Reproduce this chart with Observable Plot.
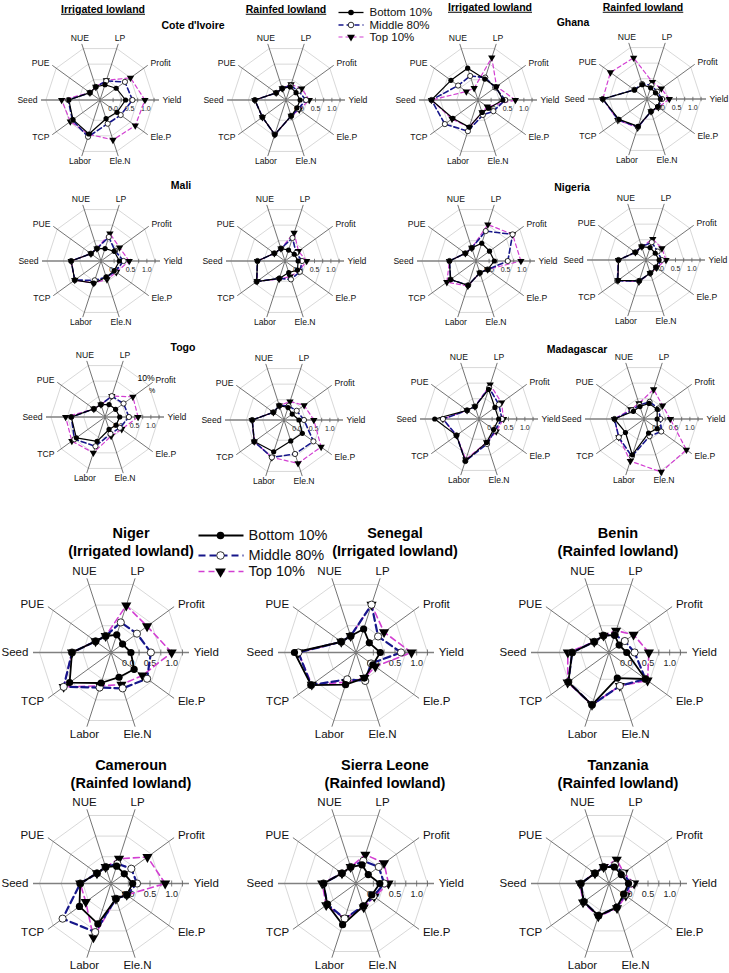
<!DOCTYPE html>
<html><head><meta charset="utf-8">
<script src="https://cdn.jsdelivr.net/npm/d3@7"></script>
<script src="https://cdn.jsdelivr.net/npm/@observablehq/plot@0.6"></script>
<style>
body{margin:0;background:#fff;font-family:"Liberation Sans",Arial,sans-serif;}
#root{position:relative;width:729px;height:973px;overflow:hidden;background:#fff;}
.t{position:absolute;white-space:nowrap;transform:translate(-50%,-50%);font-weight:bold;color:#000;line-height:1;}
.u{text-decoration:underline;}
svg{position:absolute;}
</style></head><body><div id="root"></div>
<script>
// axis order (counter-clockwise from east)
const axes = ["Yield","Profit","LP","NUE","PUE","Seed","TCP","Labor","Ele.N","Ele.P"];
const groups = ["Bottom 10%","Middle 80%","Top 10%"];
const tickValues = [0, 0.25, 0.5, 0.75, 1.0, 1.25];
const tickLabels = ["0.0","0.5","1.0"];
const tickLabelValues = [0, 0.5, 1.0];
const ringValues = [0.25, 0.75, 1.25];

// values: Yield, Profit, LP, NUE, PUE, Seed, TCP, Labor, Ele.N, Ele.P
const civIrr_bottom = [0.38, 0.21, 0.09, 0.02, -0.02, 0.55, 0.62, 0.69, 0.20, 0.24];
const civIrr_middle = [0.59, 0.54, 0.21, 0.02, -0.02, 0.57, 0.64, 0.78, 0.36, 0.38];
const civIrr_top    = [0.97, 0.75, 0.23, 0.02, -0.02, 0.77, 0.72, 0.70, 0.88, 0.93];

const civRf_bottom = [0.03, -0.02, 0.02, -0.03, -0.03, 0.55, 0.49, 0.71, 0.11, 0.01];
const civRf_middle = [0.21, 0.07, 0.06, -0.03, -0.03, 0.55, 0.49, 0.71, 0.11, 0.06];
const civRf_top    = [0.31, 0.19, 0.10, -0.03, -0.03, 0.55, 0.49, 0.71, 0.11, 0.10];

const ghaIrr_bottom = [0.36, 0.28, 0.27, 0.62, 0.62, 1.02, 0.55, 0.47, 0.00, 0.02];
const ghaIrr_middle = [0.43, 0.25, 0.32, 0.37, 0.35, 1.02, 0.85, 0.60, 0.08, 0.18];
const ghaIrr_top    = [0.74, 0.30, 0.96, -0.02, 0.04, 1.02, 0.58, 0.48, 0.00, -0.05];

const ghaRf_bottom = [0.01, -0.08, -0.04, 0.06, 0.07, 0.95, 0.66, 0.48, 0.00, 0.00];
const ghaRf_middle = [0.06, -0.02, 0.04, 0.08, 0.08, 0.95, 0.68, 0.50, 0.00, 0.02];
const ghaRf_top    = [0.28, 0.14, 0.14, 0.92, 0.98, 0.95, 0.70, 0.52, 0.00, 0.03];

const maliIrr_bottom = [0.16, 0.10, 0.00, 0.00, -0.02, 0.51, 0.59, 0.31, 0.12, 0.10];
const maliIrr_middle = [0.29, 0.13, 0.37, 0.00, -0.02, 0.51, 0.59, 0.22, 0.12, 0.14];
const maliIrr_top    = [0.46, 0.30, 0.48, 0.00, -0.02, 0.51, 0.59, 0.31, 0.19, 0.18];

const maliRf_bottom = [0.00, -0.05, -0.05, 0.00, 0.00, 0.44, 0.67, 0.16, -0.03, 0.07];
const maliRf_middle = [0.12, 0.02, 0.34, 0.00, 0.00, 0.44, 0.67, 0.16, 0.19, 0.16];
const maliRf_top    = [0.26, 0.11, 0.50, 0.00, 0.00, 0.44, 0.65, 0.18, 0.10, 0.12];

const ngaIrr_bottom = [0.16, 0.11, 0.17, 0.02, 0.00, 0.41, 0.56, 0.38, -0.02, 0.04];
const ngaIrr_middle = [0.57, 0.98, 0.56, 0.02, 0.00, 0.41, 0.56, 0.38, -0.02, 0.04];
const ngaIrr_top    = [0.97, 0.98, 0.77, 0.02, 0.00, 0.41, 0.70, 0.40, -0.02, 0.04];

const ngaRf_bottom = [0.00, -0.05, 0.00, 0.03, 0.00, 0.44, 0.66, 0.27, 0.02, -0.02];
const ngaRf_middle = [0.08, 0.04, 0.17, 0.03, 0.00, 0.44, 0.68, 0.27, 0.02, -0.02];
const ngaRf_top    = [0.21, 0.20, 0.27, 0.03, 0.00, 0.44, 0.66, 0.30, 0.02, 0.00];

const togoIrr_bottom = [0.05, 0.00, 0.00, 0.00, 0.02, 0.63, 0.68, 0.38, 0.00, 0.02];
const togoIrr_middle = [0.33, 0.30, 0.27, 0.00, 0.02, 0.63, 0.75, 0.54, 0.14, 0.16];
const togoIrr_top    = [0.61, 0.65, 0.27, 0.00, 0.02, 0.80, 0.85, 0.75, 0.21, 0.23];

const togoRf_bottom = [0.06, -0.09, 0.00, 0.06, 0.00, 0.57, 0.72, 0.62, 0.27, 0.29];
const togoRf_middle = [0.21, 0.08, 0.05, 0.06, 0.00, 0.57, 0.72, 0.80, 0.69, 0.71];
const togoRf_top    = [0.51, 0.36, 0.19, 0.06, 0.00, 0.57, 0.72, 0.80, 0.99, 1.00];

const madIrr_bottom = [0.20, 0.20, 0.55, 0.00, 0.05, 0.95, 0.45, 0.95, 0.35, 0.15];
const madIrr_middle = [0.30, 0.35, 0.60, 0.00, 0.05, 0.70, 0.45, 0.95, 0.40, 0.20];
const madIrr_top    = [0.35, 0.45, 0.70, 0.00, 0.05, 0.70, 0.45, 0.90, 0.35, 0.25];

const madRf_bottom = [0.00, 0.10, 0.10, 0.00, 0.00, 0.50, 0.30, 0.75, 0.05, 0.10];
const madRf_middle = [0.10, 0.15, 0.15, 0.05, 0.05, 0.50, 0.55, 0.80, 0.15, 0.25];
const madRf_top    = [0.40, 0.30, 0.55, 0.10, 0.10, 0.50, 0.55, 0.95, 1.30, 1.20];

const nigerIrr_bottom = [0.06, -0.07, 0.03, 0.00, 0.04, 0.50, 0.78, 0.34, 0.20, 0.26];
const nigerIrr_middle = [0.52, 0.34, 0.33, 0.00, 0.04, 0.50, 0.95, 0.45, 0.47, 0.63];
const nigerIrr_top    = [1.00, 0.63, 0.74, 0.00, 0.04, 0.50, 0.95, 0.41, 0.38, 0.50];

const senIrr_bottom = [0.16, -0.02, 0.17, 0.00, 0.02, 1.02, 0.88, 0.38, 0.22, 0.08];
const senIrr_middle = [0.64, 0.23, 0.76, 0.00, 0.02, 0.93, 0.88, 0.25, 0.29, 0.03];
const senIrr_top    = [0.88, 0.40, 0.76, 0.00, 0.02, 0.93, 0.86, 0.32, 0.22, 0.15];

const beninRf_bottom = [0.01, -0.11, 0.02, 0.01, 0.02, 0.45, 0.76, 0.87, 0.22, 0.64];
const beninRf_middle = [0.19, 0.05, 0.03, 0.01, 0.02, 0.45, 0.76, 0.87, 0.41, 0.64];
const beninRf_top    = [0.52, 0.30, 0.13, 0.01, 0.02, 0.55, 0.78, 0.87, 0.41, 0.70];

const camRf_bottom = [0.10, -0.02, 0.02, 0.00, 0.00, 0.31, 0.50, 0.58, -0.03, 0.05];
const camRf_middle = [0.20, 0.18, 0.08, 0.00, 0.00, 0.31, 0.98, 0.78, -0.03, 0.05];
const camRf_top    = [0.85, 0.64, 0.20, 0.00, 0.00, 0.31, 0.32, 0.91, -0.03, 0.05];

const slRf_bottom = [0.15, -0.05, 0.05, 0.00, 0.00, 0.35, 0.42, 0.60, 0.15, 0.05];
const slRf_middle = [0.25, 0.25, 0.15, 0.00, 0.00, 0.35, 0.42, 0.45, 0.15, 0.10];
const slRf_top    = [0.35, 0.40, 0.30, 0.00, 0.00, 0.38, 0.45, 0.45, 0.18, 0.12];

const tzRf_bottom = [0.05, -0.05, 0.00, 0.00, 0.00, 0.25, 0.32, 0.38, 0.18, 0.02];
const tzRf_middle = [0.10, 0.00, 0.05, 0.00, 0.00, 0.25, 0.32, 0.38, 0.18, 0.05];
const tzRf_top    = [0.18, 0.02, 0.18, 0.00, 0.00, 0.27, 0.34, 0.40, 0.20, 0.08];

// layout (positions only)
const charts = [
  {s:[civIrr_bottom,civIrr_middle,civIrr_top], cx:99, cy:99, big:false},
  {s:[civRf_bottom,civRf_middle,civRf_top], cx:285, cy:99, big:false},
  {s:[ghaIrr_bottom,ghaIrr_middle,ghaIrr_top], cx:477, cy:99, big:false},
  {s:[ghaRf_bottom,ghaRf_middle,ghaRf_top], cx:646, cy:98, big:false},
  {s:[maliIrr_bottom,maliIrr_middle,maliIrr_top], cx:100, cy:260, big:false},
  {s:[maliRf_bottom,maliRf_middle,maliRf_top], cx:284, cy:260, big:false},
  {s:[ngaIrr_bottom,ngaIrr_middle,ngaIrr_top], cx:475, cy:260, big:false},
  {s:[ngaRf_bottom,ngaRf_middle,ngaRf_top], cx:645, cy:259, big:false},
  {s:[togoIrr_bottom,togoIrr_middle,togoIrr_top], cx:104, cy:416, big:false},
  {s:[togoRf_bottom,togoRf_middle,togoRf_top], cx:283, cy:419, big:false},
  {s:[madIrr_bottom,madIrr_middle,madIrr_top], cx:478, cy:418, big:false},
  {s:[madRf_bottom,madRf_middle,madRf_top], cx:643, cy:418, big:false},
  {s:[nigerIrr_bottom,nigerIrr_middle,nigerIrr_top], cx:110, cy:652, big:true},
  {s:[senIrr_bottom,senIrr_middle,senIrr_top], cx:355, cy:652, big:true},
  {s:[beninRf_bottom,beninRf_middle,beninRf_top], cx:608, cy:652, big:true},
  {s:[camRf_bottom,camRf_middle,camRf_top], cx:110, cy:883, big:true},
  {s:[slRf_bottom,slRf_middle,slRf_top], cx:355, cy:883, big:true},
  {s:[tzRf_bottom,tzRf_middle,tzRf_top], cx:608, cy:883, big:true}
];

const titles = [
  {t:"Irrigated lowland", x:103, y:9, fs:10.5, u:true},
  {t:"Rainfed lowland", x:286, y:9, fs:10.5, u:true},
  {t:"Irrigated lowland", x:490, y:7, fs:10.5, u:true},
  {t:"Rainfed lowland", x:643, y:7, fs:10.5, u:true},
  {t:"Cote d'Ivoire", x:193, y:25, fs:10.5},
  {t:"Ghana", x:573, y:22, fs:10.5},
  {t:"Mali", x:181, y:185, fs:10.5},
  {t:"Nigeria", x:572, y:187, fs:10.5},
  {t:"Togo", x:183, y:347, fs:10.5},
  {t:"Madagascar", x:577, y:349, fs:10.5},
  {t:"Niger", x:131, y:533, fs:14.5},
  {t:"(Irrigated lowland)", x:131, y:551, fs:14.5},
  {t:"Senegal", x:395, y:533, fs:14.5},
  {t:"(Irrigated lowland)", x:395, y:551, fs:14.5},
  {t:"Benin", x:618, y:533, fs:14.5},
  {t:"(Rainfed lowland)", x:618, y:551, fs:14.5},
  {t:"Cameroun", x:131, y:765, fs:14.5},
  {t:"(Rainfed lowland)", x:131, y:783, fs:14.5},
  {t:"Sierra Leone", x:385, y:765, fs:14.5},
  {t:"(Rainfed lowland)", x:385, y:783, fs:14.5},
  {t:"Tanzania", x:618, y:765, fs:14.5},
  {t:"(Rainfed lowland)", x:618, y:783, fs:14.5}
];

const colors = ["#000000", "#16168a", "#d23fd2"];
const K = d3.scaleLinear().domain([-0.4, 1.4]).range([0, 1]);
const ang = i => i * Math.PI / 5;

const root = document.getElementById("root");

function radar(c) {
  const big = c.big;
  const R = big ? 78 : 59;
  const W = Math.round(R * 3.3), H = Math.round(R * 3.0);
  const xs = W / 2 / R, ys = H / 2 / R;
  const fs = big ? 11.5 : 8.6;
  const tfs = big ? 9 : 7;
  const lw = big ? [1.8, 2.2, 1.6] : [1.2, 1.6, 1.2];
  const dash = big ? [null, "7,4", "6,4"] : [null, "5,3", "4,3"];
  const mr = big ? 3.6 : 2.6;

  const axisRows = axes.map((a, i) => ({a, i, x: Math.cos(ang(i)), y: Math.sin(ang(i))}));
  const rings = ringValues.flatMap(v => d3.range(11).map(i => ({v, x: K(v) * Math.cos(ang(i % 10)), y: K(v) * Math.sin(ang(i % 10))})));
  const series = c.s.flatMap((vals, g) => d3.range(11).map(j => {
    const i = j % 10;
    return {g, i, x: K(vals[i]) * Math.cos(ang(i)), y: K(vals[i]) * Math.sin(ang(i)), closing: j === 10};
  }));
  const pts = series.filter(d => !d.closing);
  const lab = (i, r) => ({a: axes[i], x: r * Math.cos(ang(i)), y: r * Math.sin(ang(i)), c: Math.cos(ang(i))});
  const labStart = axes.map((_, i) => lab(i, 1.06)).filter(d => d.c > 0.5);
  const labEnd = axes.map((_, i) => lab(i, 1.06)).filter(d => d.c < -0.5);
  const labMid = axes.map((_, i) => lab(i, 1.1)).filter(d => Math.abs(d.c) <= 0.5);
  const tl = (big ? 3 : 2.2) / R;

  const marks = [
    Plot.line(rings, {x: "x", y: "y", z: "v", stroke: "#d4d4d4", strokeWidth: 0.9}),
    Plot.link(axisRows.filter(d => d.i !== 0 && d.i !== 5), {x1: 0, y1: 0, x2: "x", y2: "y", stroke: "#505050", strokeWidth: 0.8}),
    Plot.link(axisRows.filter(d => d.i === 0 || d.i === 5), {x1: 0, y1: 0, x2: "x", y2: "y", stroke: "#808080", strokeWidth: 1.3}),
    Plot.link(tickValues, {x1: d => K(d), x2: d => K(d), y1: -tl, y2: tl, stroke: "#606060", strokeWidth: 0.8}),
    Plot.text(tickLabelValues, {x: d => K(d), y: -(big ? 10.5 : 8.5) / R, text: (d, i) => tickLabels[i], fontSize: tfs, fill: "#222"}),
    Plot.text(labStart, {x: "x", y: "y", text: "a", textAnchor: "start", fontSize: fs, fill: "#111"}),
    Plot.text(labEnd, {x: "x", y: "y", text: "a", textAnchor: "end", fontSize: fs, fill: "#111"}),
    Plot.text(labMid, {x: "x", y: "y", text: "a", textAnchor: "middle", fontSize: fs, fill: "#111"})
  ];
  for (const g of [2, 1, 0]) {
    marks.push(Plot.line(series.filter(d => d.g === g), {x: "x", y: "y", stroke: colors[g], strokeWidth: lw[g], strokeDasharray: dash[g], strokeLinejoin: "miter"}));
  }
  marks.push(Plot.dot(pts.filter(d => d.g === 2), {x: "x", y: "y", symbol: "triangle", rotate: 180, r: mr * 1.05, fill: "#000", stroke: "none"}));
  marks.push(Plot.dot(pts.filter(d => d.g === 1), {x: "x", y: "y", symbol: "circle", r: mr, fill: "#fff", stroke: "#000", strokeWidth: 0.8}));
  marks.push(Plot.dot(pts.filter(d => d.g === 0), {x: "x", y: "y", symbol: "circle", r: mr, fill: "#000", stroke: "none"}));

  const svg = Plot.plot({
    width: W, height: H, margin: 0,
    x: {domain: [-xs, xs], range: [0, W], axis: null},
    y: {domain: [-ys, ys], range: [H, 0], axis: null},
    style: {background: "transparent", overflow: "visible", fontFamily: "'Liberation Sans', Arial, sans-serif"},
    marks
  });
  svg.style.left = (c.cx - W / 2) + "px";
  svg.style.top = (c.cy - H / 2) + "px";
  root.appendChild(svg);
}

function legend(left, top, W, H, ys, x1, x2, xm, xt, fs, big) {
  const rows = groups.map((g, k) => ({g, k, y: ys[k]}));
  const lw = big ? [1.8, 2.2, 1.6] : [1.3, 1.6, 1.2];
  const dash = big ? [null, "7,4", "6,4"] : [null, "5,3", "4,3"];
  const mr = big ? 3.8 : 2.8;
  const marks = [];
  rows.forEach(d => {
    marks.push(Plot.link([d], {x1: x1, x2: x2, y1: "y", y2: "y", stroke: colors[d.k], strokeWidth: lw[d.k], strokeDasharray: dash[d.k]}));
  });
  marks.push(Plot.dot(rows.filter(d => d.k === 0), {x: xm, y: "y", r: mr, fill: "#000"}));
  marks.push(Plot.dot(rows.filter(d => d.k === 1), {x: xm, y: "y", r: mr, fill: "#fff", stroke: "#000", strokeWidth: 0.8}));
  marks.push(Plot.dot(rows.filter(d => d.k === 2), {x: xm, y: "y", r: mr * 1.05, symbol: "triangle", rotate: 180, fill: "#000"}));
  marks.push(Plot.text(rows, {x: xt, y: "y", text: "g", textAnchor: "start", fontSize: fs, fill: "#111"}));
  const svg = Plot.plot({
    width: W, height: H, margin: 0,
    x: {domain: [0, W], range: [0, W], axis: null},
    y: {domain: [0, H], range: [0, H], axis: null},
    style: {background: "transparent", overflow: "visible", fontFamily: "'Liberation Sans', Arial, sans-serif"},
    marks
  });
  svg.style.left = left + "px";
  svg.style.top = top + "px";
  root.appendChild(svg);
}

charts.forEach(radar);
legend(335, 2, 110, 40, [10, 22.5, 34.5], 3, 28, 15.5, 34, 11.5, false);
legend(195, 525, 150, 55, [10, 30, 46], 3, 48, 25, 53, 14.5, true);

titles.forEach(d => {
  const el = document.createElement("div");
  el.className = "t" + (d.u ? " u" : "");
  el.style.left = d.x + "px";
  el.style.top = d.y + "px";
  el.style.fontSize = d.fs + "px";
  el.textContent = d.t;
  root.appendChild(el);
});
// stray label fragments visible in the original Togo panel
[{t:"10%", x:146, y:378, fs:8.6}, {t:"%", x:152, y:390, fs:7}].forEach(d => {
  const el = document.createElement("div");
  el.className = "t";
  el.style.fontWeight = "normal";
  el.style.left = d.x + "px"; el.style.top = d.y + "px"; el.style.fontSize = d.fs + "px";
  el.textContent = d.t;
  root.appendChild(el);
});
</script></body></html>
